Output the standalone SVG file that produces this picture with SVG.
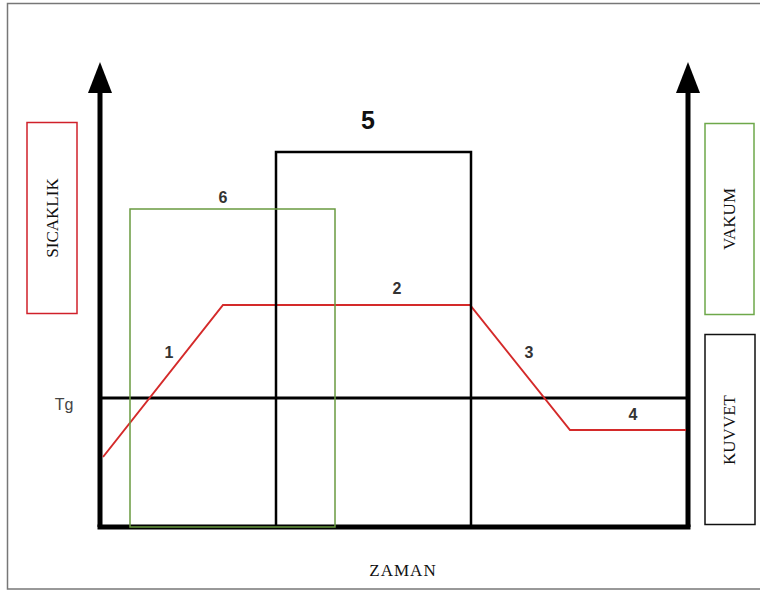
<svg xmlns="http://www.w3.org/2000/svg" width="760" height="592" viewBox="0 0 760 592">
<style>
.lbl{font-family:"Liberation Sans",Arial,sans-serif;font-weight:bold;font-size:16px;fill:#333;text-anchor:middle}
.side{font-family:"Liberation Serif","Times New Roman",serif;font-size:17px;fill:#111;text-anchor:middle}
.ax{stroke:#000;stroke-width:5;fill:none}
</style>
<rect width="760" height="592" fill="#fff"/>
<rect x="7.5" y="3.5" width="760" height="585.5" fill="none" stroke="#777" stroke-width="1.5"/>
<g id="connectors">
<path class="ax" d="M100,527 L100,92"/>
<path class="ax" d="M688,527 L688,92"/>
<path d="M100,62 L88,93 L112,93 Z" fill="#000"/>
<path d="M688,62 L676,93 L700,93 Z" fill="#000"/>
<path class="ax" d="M97.5,527 L690.5,527"/>
<path d="M100,398 L688,398" stroke="#000" stroke-width="3"/>
<polyline points="103,457 223,305 470,305 570,430 686,430" fill="none" stroke="#d42a2a" stroke-width="2"/>
</g>
<g id="box5"><rect x="276" y="152" width="195" height="375" fill="none" stroke="#000" stroke-width="2.5"/><text x="368" y="129" class="lbl" style="font-size:25px;fill:#111">5</text></g>
<g id="box6"><rect x="130" y="209" width="205" height="318" fill="none" stroke="#6a9a40" stroke-width="1.5"/><text x="223" y="203" class="lbl">6</text></g>
<g id="l1"><text x="169" y="358" class="lbl">1</text></g>
<g id="l2"><text x="397" y="294" class="lbl">2</text></g>
<g id="l3"><text x="529" y="358" class="lbl">3</text></g>
<g id="l4"><text x="633" y="420" class="lbl">4</text></g>
<g id="tg"><text x="64" y="410" class="lbl" style="font-weight:normal;font-size:16px;fill:#444">Tg</text></g>
<g id="sicaklik"><rect x="27" y="122.5" width="50" height="191" fill="#fff" stroke="#d0202a" stroke-width="1.5"/><text class="side" transform="translate(58,218) rotate(-90)">SICAKLIK</text></g>
<g id="vakum"><rect x="705" y="123.5" width="49" height="191" fill="#fff" stroke="#6ea84a" stroke-width="1.5"/><text class="side" transform="translate(735,219) rotate(-90)">VAKUM</text></g>
<g id="kuvvet"><rect x="705" y="334.5" width="50" height="190" fill="#fff" stroke="#111" stroke-width="1.5"/><text class="side" transform="translate(735,430) rotate(-90)">KUVVET</text></g>
<g id="zaman"><text x="403" y="576" class="side" style="letter-spacing:1px">ZAMAN</text></g>
</svg>
